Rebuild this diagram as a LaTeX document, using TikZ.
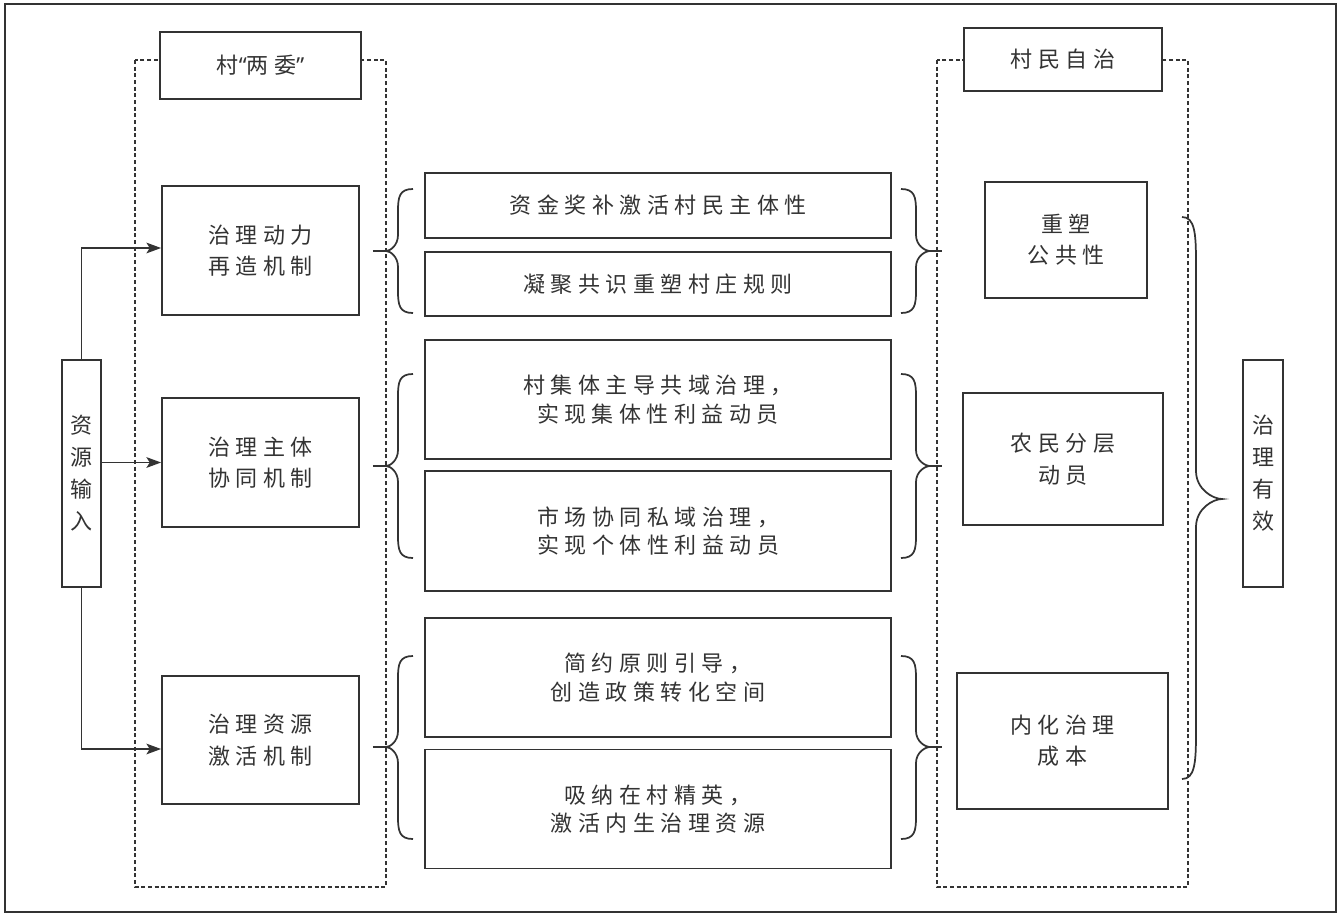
\documentclass[tikz,border=0pt]{standalone}
\usepackage{fontspec}
\newfontfamily\cjk[LetterSpace=25]{Noto Sans CJK SC}
\newfontfamily\lat{Noto Sans}
\usetikzlibrary{arrows.meta,calc}
\definecolor{ink}{HTML}{333333}
\newcommand\mkbrace[8]{%
 \draw[brc] (#3,#4) .. controls ({#2+0.1*(#3-#2)},#4) and (#2,{#4+0.35*#7}) .. (#2,{#4+#7})
 -- (#2,{#5-#8}) .. controls (#2,{#5-0.35*#8}) and ({#1+0.35*(#2-#1)},#5) .. (#1,#5)
 .. controls ({#1+0.35*(#2-#1)},#5) and (#2,{#5+0.35*#8}) .. (#2,{#5+#8})
 -- (#2,{#6-#7}) .. controls (#2,{#6-0.35*#7}) and ({#2+0.1*(#3-#2)},#6) .. (#3,#6);}
\begin{document}
\begin{tikzpicture}[x=0.75pt,y=-0.75pt,
 box/.style={draw=ink,line width=1.35pt,fill=white,inner sep=0pt,align=center,text=ink,
   font=\cjk\fontsize{16.5}{23.5}\selectfont},
 mbox/.style={box,minimum width=349.5pt,font=\cjk\fontsize{16.5}{21.5}\selectfont},
 grp/.style={draw=ink,line width=1pt,dash pattern=on 3pt off 2pt},
 brc/.style={draw=ink,line width=1.3pt},
 arr/.style={draw=ink,line width=1.3pt,-{Stealth[length=11pt,width=8pt,inset=2.5pt]}},
 lnk/.style={draw=ink,line width=1.3pt}]
\useasboundingbox (0,0) rectangle (1340,915);
\fill[white] (0,0) rectangle (1340,915);
\draw[ink,line width=1.35pt] (5,4) rectangle (1336,912);
% groups
\draw[grp] (135,60) rectangle (386,887);
\draw[grp] (937,60) rectangle (1188,887);
% titles
\node[box,minimum width=150.75pt,minimum height=50.25pt] (tl) at (260.5,65.5) {村{\lat“}两委{\lat”}};
\node[box,minimum width=148.5pt,minimum height=47.25pt] (tr) at (1063,59.5) {村民自治};
% left column
\node[box,minimum width=29.25pt,minimum height=170.25pt,font=\cjk\fontsize{16.5}{24}\selectfont] (in) at (81.5,473.5) {资\\源\\输\\入};
\node[box,minimum width=147.75pt,minimum height=96.75pt] (a1) at (260.5,250.5) {治理动力\\再造机制};
\node[box,minimum width=147.75pt,minimum height=96.75pt] (a2) at (260.5,462.5) {治理主体\\协同机制};
\node[box,minimum width=147.75pt,minimum height=96pt] (a3) at (260.5,740) {治理资源\\激活机制};
% middle column
\node[mbox,minimum height=48.75pt] (m1) at (658,205.5) {资金奖补激活村民主体性};
\node[mbox,minimum height=48pt] (m2) at (658,284) {凝聚共识重塑村庄规则};
\node[mbox,minimum height=89.25pt] (m3) at (658,399.5) {村集体主导共域治理，\\实现集体性利益动员};
\node[mbox,minimum height=90pt] (m4) at (658,531) {市场协同私域治理，\\实现个体性利益动员};
\node[mbox,minimum height=89.25pt] (m5) at (658,677.5) {简约原则引导，\\创造政策转化空间};
\node[mbox,minimum height=89.25pt] (m6) at (658,809) {吸纳在村精英，\\激活内生治理资源};
% right column
\node[box,minimum width=121.5pt,minimum height=87pt] (b1) at (1066,240) {重塑\\公共性};
\node[box,minimum width=150pt,minimum height=99pt] (b2) at (1063,459) {农民分层\\动员};
\node[box,minimum width=158.25pt,minimum height=102pt] (b3) at (1062.5,741) {内化治理\\成本};
\node[box,minimum width=30pt,minimum height=170.25pt,font=\cjk\fontsize{16.5}{24}\selectfont] (c) at (1263,473.5) {治\\理\\有\\效};
% arrows
\draw[arr] (in.north) |- ($(a1.west)+(0,-2.5)$);
\draw[arr] (in.east |- a2.west) -- (a2.west);
\draw[arr] (in.south) |- ($(a3.west)+(0,9)$);
% braces left
\coordinate (t1) at (386,251);
\coordinate (t2) at (386,466);
\coordinate (t3) at (386,747);
\mkbrace{386}{398}{413}{189}{251}{313}{22}{16}
\mkbrace{386}{398}{413}{374}{466}{558}{22}{16}
\mkbrace{386}{398}{413}{656}{747}{839}{22}{16}
\draw[lnk] (a1.east) ++(13,0.5) -- (t1);
\draw[lnk] (a2.east) ++(13,3.5) -- (t2);
\draw[lnk] (a3.east) ++(13,7) -- (t3);
% braces right
\coordinate (u1) at (942,251);
\coordinate (u2) at (942,466);
\coordinate (u3) at (942,747);
\mkbrace{930}{916}{901}{189}{251}{313}{22}{16}
\mkbrace{930}{916}{901}{374}{466}{558}{22}{16}
\mkbrace{930}{916}{901}{656}{747}{839}{22}{16}
\draw[lnk] (930,251) -- (u1);
\draw[lnk] (930,466) -- (u2);
\draw[lnk] (930,747) -- (u3);
% big brace
\mkbrace{1222}{1196}{1182}{217}{499}{779}{45}{28}
\end{tikzpicture}
\end{document}
